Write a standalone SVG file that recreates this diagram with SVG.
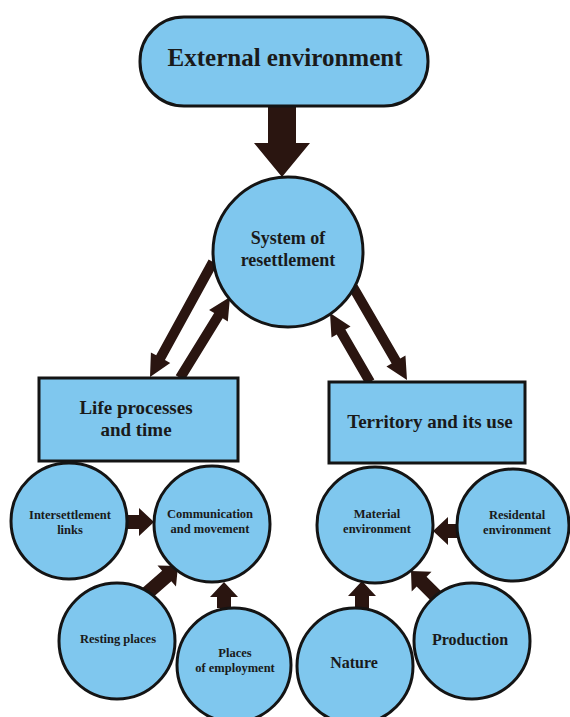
<svg xmlns="http://www.w3.org/2000/svg" width="570" height="717" viewBox="0 0 570 717">
<style>
.n{fill:#7fc7ee;stroke:#141414;stroke-width:3}
.a{fill:#2a1510}
text{font-family:"Liberation Serif","Times New Roman",serif;font-weight:bold;fill:#1a1a1a;text-anchor:middle}
.t1{font-size:25px}
.t2{font-size:19px}
.t5{font-size:18px}
.t3{font-size:12.5px}
.t4{font-size:16px}
</style>
<rect width="570" height="717" fill="#ffffff"/>
<g id="connectors">
<polygon class="a" points="268,106 296,106 296,143 310,143 282,177 254,143 268,143"/>
<polygon class="a" points="217.39,264.40 164.96,360.10 170.22,362.99 150,377 150.92,352.41 156.18,355.30 208.61,259.60"/>
<polygon class="a" points="184.25,380.63 222.70,318.35 227.81,321.50 230,297 209.09,309.94 214.20,313.09 175.75,375.37"/>
<polygon class="a" points="374.33,379.49 345.36,329.52 350.55,326.51 330,313 331.51,337.55 336.70,334.54 365.67,384.51"/>
<polygon class="a" points="357.32,284.49 400.27,358.46 405.46,355.45 407,380 386.44,366.49 391.63,363.48 348.68,289.51"/>
<polygon class="a" points="126,515 139,515 139,508 154,522 139,536 139,529 126,529"/>
<polygon class="a" points="460,524 448,524 448,517 433,531 448,545 448,538 460,538"/>
<polygon class="a" points="217,608 217,597 210,597 224,582 238,597 231,597 231,608"/>
<polygon class="a" points="355,608 355,596 348,596 362,581 376,596 369,596 369,608"/>
<polygon class="a" points="149.62,600.26 171.35,581.16 175.97,586.42 178,566 157.49,565.38 162.11,570.64 140.38,589.74"/>
<polygon class="a" points="444.95,595.05 426.56,576.66 431.51,571.71 411,571 411.71,591.51 416.66,586.56 435.05,604.95"/>
</g>
<g id="external">
<rect class="n" x="140" y="17" width="288" height="89" rx="44" ry="44"/>
<text class="t1" x="285" y="66">External environment</text>
</g>
<g id="system">
<circle class="n" cx="288" cy="252" r="75"/>
<text class="t5" x="288" y="244">System of</text>
<text class="t5" x="288" y="266">resettlement</text>
</g>
<g id="life">
<rect class="n" x="39" y="378" width="199" height="83"/>
<text class="t2" x="136" y="414">Life processes</text>
<text class="t2" x="136" y="436">and time</text>
</g>
<g id="territory">
<rect class="n" x="329" y="382" width="196" height="81"/>
<text class="t2" x="430" y="428">Territory and its use</text>
</g>
<g id="intersettlement">
<circle class="n" cx="69" cy="521" r="58"/>
<text class="t3" x="70" y="519">Intersettlement</text>
<text class="t3" x="70" y="534">links</text>
</g>
<g id="communication">
<circle class="n" cx="212" cy="524" r="58"/>
<text class="t3" x="210" y="518">Communication</text>
<text class="t3" x="210" y="533">and movement</text>
</g>
<g id="resting">
<circle class="n" cx="117" cy="641" r="58"/>
<text class="t3" x="118" y="643">Resting places</text>
</g>
<g id="employment">
<circle class="n" cx="234" cy="665" r="57"/>
<text class="t3" x="235" y="657">Places</text>
<text class="t3" x="235" y="672">of employment</text>
</g>
<g id="material">
<circle class="n" cx="375" cy="525" r="58"/>
<text class="t3" x="377" y="518">Material</text>
<text class="t3" x="377" y="533">environment</text>
</g>
<g id="residental">
<circle class="n" cx="513" cy="525" r="56"/>
<text class="t3" x="517" y="519">Residental</text>
<text class="t3" x="517" y="534">environment</text>
</g>
<g id="nature">
<circle class="n" cx="355" cy="666" r="58"/>
<text class="t4" x="354" y="668">Nature</text>
</g>
<g id="production">
<circle class="n" cx="472" cy="641" r="58"/>
<text class="t4" x="470" y="645">Production</text>
</g>
</svg>
